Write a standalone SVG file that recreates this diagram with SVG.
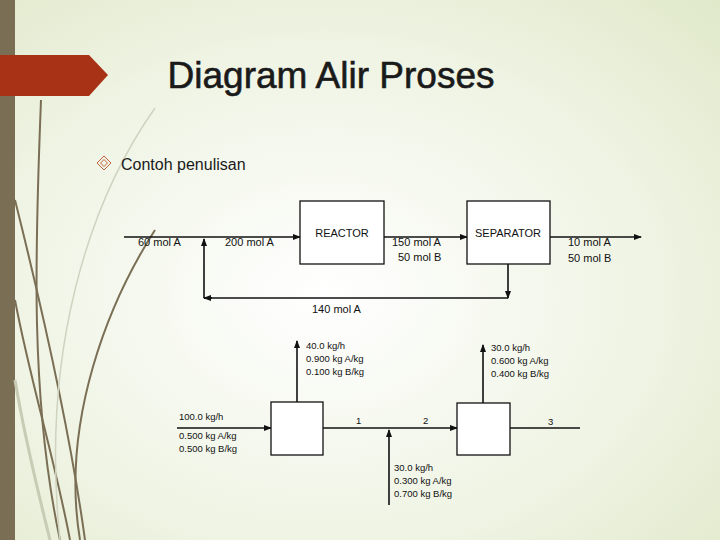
<svg xmlns="http://www.w3.org/2000/svg" width="720" height="540" viewBox="0 0 720 540">
<defs>
<radialGradient id="bg" cx="0.45" cy="0.55" r="0.8">
<stop offset="0" stop-color="#ffffff"/><stop offset="0.6" stop-color="#eef3e2"/><stop offset="1" stop-color="#dfe8c8"/>
</radialGradient>
<marker id="ah" markerWidth="8" markerHeight="6" refX="7" refY="3" orient="auto" markerUnits="userSpaceOnUse"><path d="M0,0 L8,3 L0,6 z" fill="#111"/></marker>
<style>
.t{font-family:"Liberation Sans",Arial,sans-serif;fill:#111;font-size:11px}
.s{font-family:"Liberation Sans",Arial,sans-serif;fill:#111;font-size:9.5px}
.ln{stroke:#111;stroke-width:1.6;fill:none}
.bx{stroke:#111;stroke-width:1.3;fill:#fff}
.dec{fill:none;stroke:#7a6f55;stroke-width:2}
</style>
</defs>
<rect width="720" height="540" fill="url(#bg)"/>
<rect width="15" height="540" fill="#7a6f55"/>
<path class="dec" d="M41,100 C35,250 30,400 60,540"/>
<path class="dec" d="M15,200 C40,300 70,430 85,540"/>
<path class="dec" d="M155,230 C110,300 60,420 80,540"/>
<path class="dec" d="M15,300 C30,380 55,460 70,540" stroke-width="1.5"/>
<path d="M155,108 C90,200 40,350 60,540" fill="none" stroke="#cfd3c0" stroke-width="1.5"/>
<path d="M15,380 C25,440 40,500 50,540" fill="none" stroke="#c8ccb5" stroke-width="3"/>
<path d="M0,55 L89,55 L108,75 L89,96 L0,96 z" fill="#a83216"/>
<text x="331" y="88" text-anchor="middle" font-family="Liberation Sans,Arial,sans-serif" font-size="37" fill="#1a1a1a" stroke="#1a1a1a" stroke-width="0.6">Diagram Alir Proses</text>
<path d="M104,156 L111,163 L104,170 L97,163 z M104,159.5 L107.5,163 L104,166.5 L100.5,163 z" fill="none" stroke="#c0603a" stroke-width="1"/>
<text x="121" y="170" font-family="Liberation Sans,Arial,sans-serif" font-size="16" fill="#1a1a1a">Contoh penulisan</text>

<g id="connectors">
<line class="ln" x1="124" y1="237" x2="300" y2="237" marker-end="url(#ah)"/>
<line class="ln" x1="384" y1="237" x2="467" y2="237" marker-end="url(#ah)"/>
<line class="ln" x1="550" y1="237" x2="641" y2="237" marker-end="url(#ah)"/>
<line class="ln" x1="508" y1="264" x2="508" y2="298" marker-end="url(#ah)"/>
<polyline class="ln" points="508,298 204,298"/>
<line class="ln" x1="212" y1="298" x2="204" y2="298" marker-end="url(#ah)"/>
<line class="ln" x1="204" y1="298" x2="204" y2="239" marker-end="url(#ah)"/>
<line class="ln" x1="177" y1="428" x2="271" y2="428" marker-end="url(#ah)"/>
<line class="ln" x1="323" y1="428" x2="457" y2="428" marker-end="url(#ah)"/>
<line class="ln" x1="510" y1="428" x2="580" y2="428"/>
<line class="ln" x1="297" y1="402" x2="297" y2="341" marker-end="url(#ah)"/>
<line class="ln" x1="483" y1="403" x2="483" y2="345" marker-end="url(#ah)"/>
<line class="ln" x1="389" y1="505" x2="389" y2="430" marker-end="url(#ah)"/>
</g>
<g id="reactor"><rect class="bx" x="300" y="201" width="84" height="63"/><text class="t" x="342" y="237" text-anchor="middle">REACTOR</text></g>
<g id="separator"><rect class="bx" x="467" y="201" width="83" height="63"/><text class="t" x="508" y="237" text-anchor="middle">SEPARATOR</text></g>
<g id="unit1"><rect class="bx" x="271" y="402" width="52" height="53"/></g>
<g id="unit2"><rect class="bx" x="457" y="403" width="53" height="52"/></g>
<g id="labels">
<text class="t" x="138" y="246">60 mol A</text>
<text class="t" x="225" y="246">200 mol A</text>
<text class="t" x="392" y="246">150 mol A</text>
<text class="t" x="398" y="261">50 mol B</text>
<text class="t" x="568" y="246">10 mol A</text>
<text class="t" x="568" y="262">50 mol B</text>
<text class="t" x="312" y="313">140 mol A</text>
<text class="s" x="306" y="349">40.0 kg/h</text>
<text class="s" x="306" y="362">0.900 kg A/kg</text>
<text class="s" x="306" y="375">0.100 kg B/kg</text>
<text class="s" x="491" y="351">30.0 kg/h</text>
<text class="s" x="491" y="364">0.600 kg A/kg</text>
<text class="s" x="491" y="377">0.400 kg B/kg</text>
<text class="s" x="179" y="420">100.0 kg/h</text>
<text class="s" x="179" y="439">0.500 kg A/kg</text>
<text class="s" x="179" y="452">0.500 kg B/kg</text>
<text class="s" x="356" y="424">1</text>
<text class="s" x="423" y="424">2</text>
<text class="s" x="548" y="425">3</text>
<text class="s" x="394" y="471">30.0 kg/h</text>
<text class="s" x="394" y="484">0.300 kg A/kg</text>
<text class="s" x="394" y="497">0.700 kg B/kg</text>
</g>
</svg>
